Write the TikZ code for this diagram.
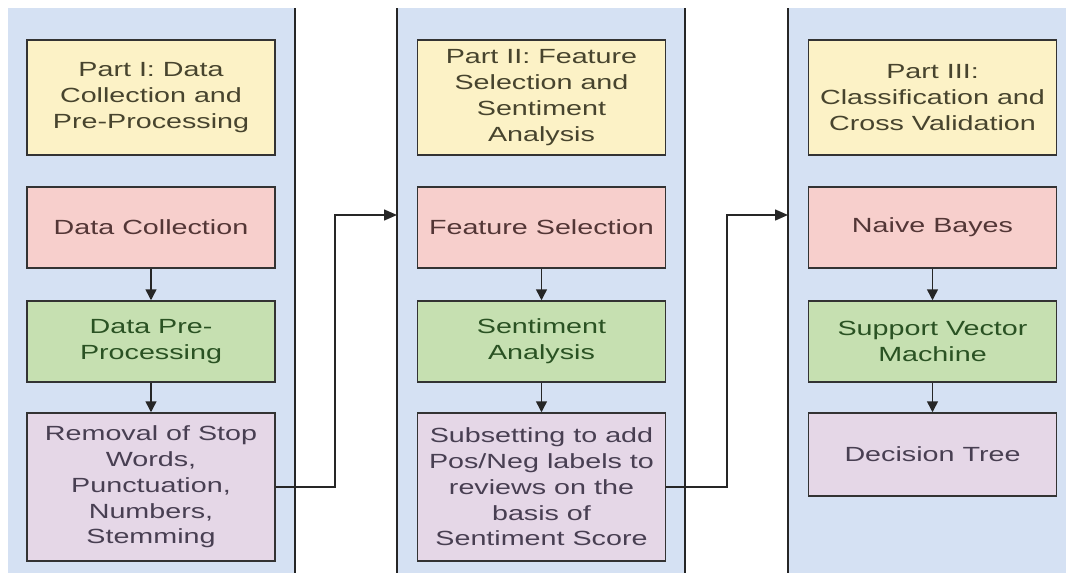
\documentclass[tikz,border=0pt]{standalone}
\usepackage{fontspec}
\setmainfont{Liberation Sans}[FakeStretch=1.4]
\usetikzlibrary{arrows.meta}
\definecolor{bluebg}{HTML}{D5E1F3}
\definecolor{ylw}{HTML}{FCF2C6}
\definecolor{ylwtxt}{HTML}{47442E}
\definecolor{pnk}{HTML}{F7CFCC}
\definecolor{pnktxt}{HTML}{533636}
\definecolor{grn}{HTML}{C6E0B1}
\definecolor{grntxt}{HTML}{2A5223}
\definecolor{prp}{HTML}{E5D7E7}
\definecolor{prptxt}{HTML}{483F52}
\definecolor{boxline}{HTML}{333333}
\begin{document}
\begin{tikzpicture}[x=1pt,y=-1pt,
  colbg/.style={fill=bluebg,draw=none},
  colline/.style={draw=black!85,line width=1.8pt},
  box/.style={draw=boxline,line width=1.5pt,minimum width=248pt,align=center,inner sep=2pt,
    font=\fontsize{20.5}{25.8}\selectfont},
  ttlbox/.style={box,fill=ylw,text=ylwtxt,minimum height=115pt},
  pnkbox/.style={box,fill=pnk,text=pnktxt,minimum height=81pt},
  grnbox/.style={box,fill=grn,text=grntxt,minimum height=81pt},
  prpbox/.style={box,fill=prp,text=prptxt,minimum height=148pt},
  dtbox/.style={box,fill=prp,text=prptxt,minimum height=83pt},
  downarrow/.style={draw=black!85,line width=1.5pt,-{Triangle[length=11pt,width=11pt]}},
  linkarrow/.style={draw=black!85,line width=1.5pt,-{Triangle[length=13pt,width=11pt]}}]
\useasboundingbox (0,0) rectangle (1066,573);
% column backgrounds
\fill[colbg] (8,8) rectangle (295,573);
\fill[colbg] (397,8) rectangle (685,573);
\fill[colbg] (788,8) rectangle (1066,573);
% column lines
\coordinate (l1t) at (295,8); \coordinate (l1b) at (295,573);
\coordinate (l2t) at (397,8); \coordinate (l2b) at (397,573);
\coordinate (l3t) at (685,8); \coordinate (l3b) at (685,573);
\coordinate (l4t) at (788,8); \coordinate (l4b) at (788,573);
\draw[colline] (l1t) -- (l1b);
\draw[colline] (l2t) -- (l2b);
\draw[colline] (l3t) -- (l3b);
\draw[colline] (l4t) -- (l4b);
% column 1
\node[ttlbox] (t1) at (151,97.5) {Part I: Data\\Collection and\\Pre-Processing};
\node[pnkbox] (a1) at (151,227.5) {Data Collection};
\node[grnbox] (b1) at (151,341.5) {Data Pre-\\Processing};
\node[prpbox] (c1) at (151,487) {Removal of Stop\\Words,\\Punctuation,\\Numbers,\\Stemming};
% column 2
\node[ttlbox] (t2) at (541.5,97.5) {Part II: Feature\\Selection and\\Sentiment\\Analysis};
\node[pnkbox] (a2) at (541.5,227.5) {Feature Selection};
\node[grnbox] (b2) at (541.5,341.5) {Sentiment\\Analysis};
\node[prpbox] (c2) at (541.5,487) {Subsetting to add\\Pos/Neg labels to\\reviews on the\\basis of\\Sentiment Score};
% column 3
\node[ttlbox] (t3) at (932.5,97.5) {Part III:\\Classification and\\Cross Validation};
\node[pnkbox] (a3) at (932.5,227.5) {Naive Bayes};
\node[grnbox] (b3) at (932.5,341.5) {Support Vector\\Machine};
\node[dtbox] (c3) at (932.5,454.5) {Decision Tree};
% down arrows
\draw[downarrow] (a1) -- (b1);
\draw[downarrow] (b1) -- (c1);
\draw[downarrow] (a2) -- (b2);
\draw[downarrow] (b2) -- (c2);
\draw[downarrow] (a3) -- (b3);
\draw[downarrow] (b3) -- (c3);
% links between columns
\coordinate (in2) at (397,215);
\coordinate (in3) at (788,215);
\draw[linkarrow] (c1.east) -- (335,487) -- (335,215) -- (in2);
\draw[linkarrow] (c2.east) -- (727,487) -- (727,215) -- (in3);
\end{tikzpicture}
\end{document}
